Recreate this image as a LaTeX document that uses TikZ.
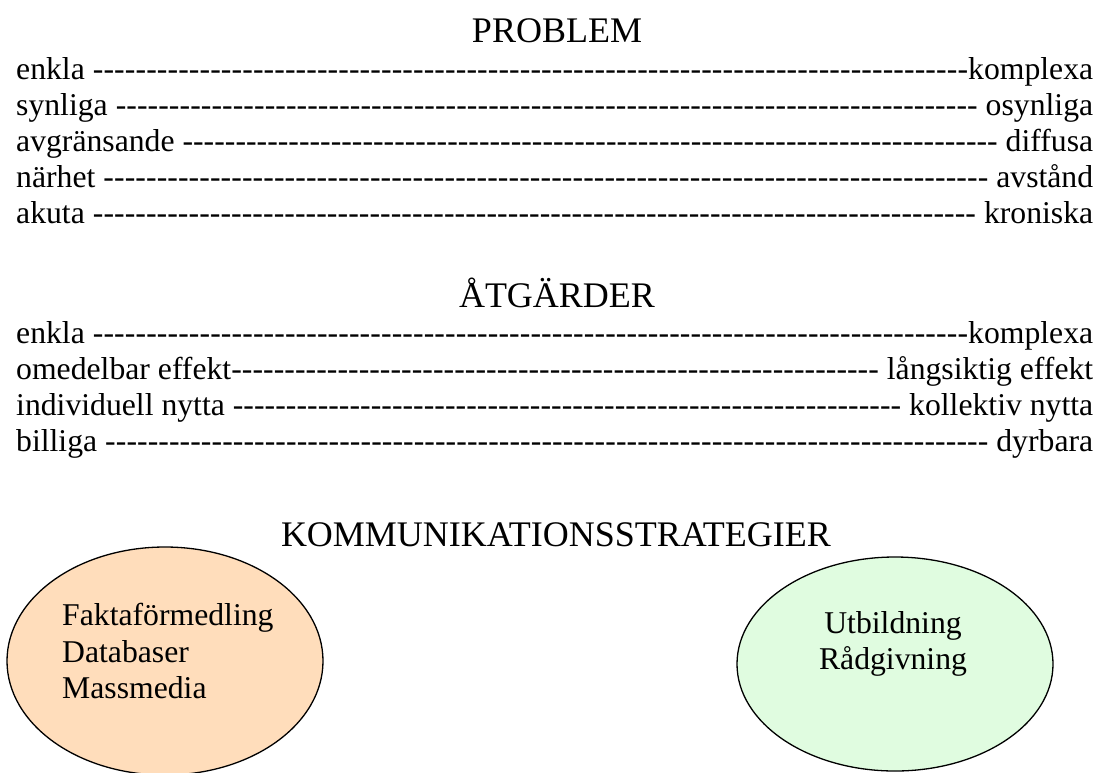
\documentclass[tikz,border=0pt]{standalone}
\usepackage{fontspec}
\setmainfont{Liberation Serif}
\usetikzlibrary{shapes.geometric}

% one scale line: left word, a run of hyphens, right word
\newcommand\dashrow[2]{\hbox to 1077pt{#1\xleaders\hbox{-}\hfill#2}}

\definecolor{peach}{HTML}{FFDDBB}
\definecolor{mint}{HTML}{E0FCE0}

\tikzset{
  rowtext/.style={anchor=base west, inner sep=0pt, font=\fontsize{31.7}{36}\selectfont},
  heading/.style={anchor=base, inner sep=0pt, font=\fontsize{36}{40}\selectfont},
  bubble/.style={draw=black, line width=1.3pt, ellipse, inner sep=0pt},
  bubbletext/.style={inner sep=0pt, font=\fontsize{31.7}{36}\selectfont},
}

\begin{document}
\begin{tikzpicture}[x=1pt, y=-1pt]
\useasboundingbox (0,0) rectangle (1097,772);

% problem scales
\node[heading] (hproblem) at (557,42) {PROBLEM};
\node[rowtext] (p1) at (16,79)  {\dashrow{enkla }{komplexa}};
\node[rowtext] (p2) at (16,115) {\dashrow{synliga }{ osynliga}};
\node[rowtext] (p3) at (16,151) {\dashrow{avgränsande }{ diffusa}};
\node[rowtext] (p4) at (16,187) {\dashrow{närhet }{ avstånd}};
\node[rowtext] (p5) at (16,223) {\dashrow{akuta }{ kroniska}};

% measure scales
\node[heading] (hmeasures) at (557,307) {ÅTGÄRDER};
\node[rowtext] (a1) at (16,343) {\dashrow{enkla }{komplexa}};
\node[rowtext] (a2) at (16,379) {\dashrow{omedelbar effekt}{ långsiktig effekt}};
\node[rowtext] (a3) at (16,415) {\dashrow{individuell nytta }{ kollektiv nytta}};
\node[rowtext] (a4) at (16,451) {\dashrow{billiga }{ dyrbara}};

% communication strategies
\node[heading] (hstrategies) at (556,546) {KOMMUNIKATIONSSTRATEGIER};

\node[bubble, fill=peach, minimum width=316pt, minimum height=228pt] (facts) at (165,661) {};
\node[bubbletext, anchor=base west] (f1) at (62,625) {Faktaförmedling};
\node[bubbletext, anchor=base west] (f2) at (62,662) {Databaser};
\node[bubbletext, anchor=base west] (f3) at (62,698) {Massmedia};

\node[bubble, fill=mint, minimum width=316pt, minimum height=214pt] (advice) at (895,664) {};
\node[bubbletext, anchor=base] (u1) at (893,633) {Utbildning};
\node[bubbletext, anchor=base] (u2) at (893,669) {Rådgivning};
\end{tikzpicture}
\end{document}
